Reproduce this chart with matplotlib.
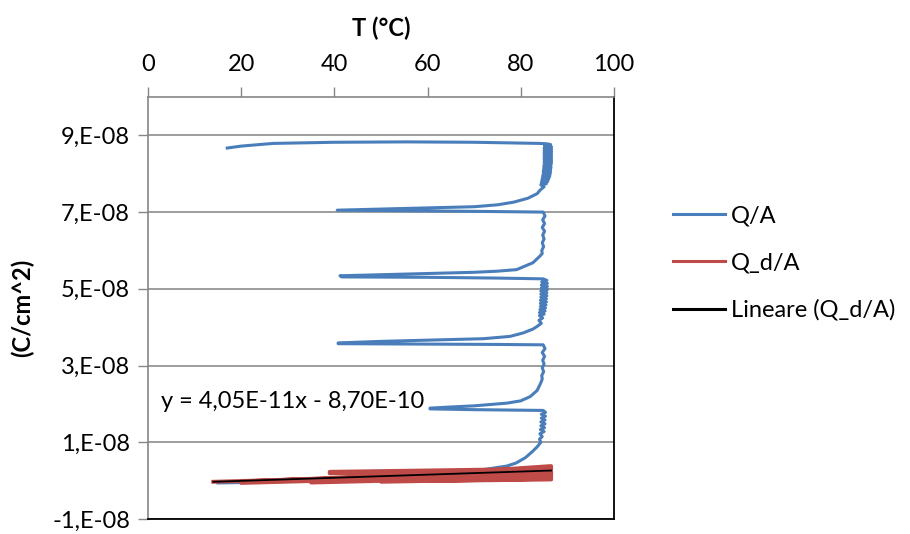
import numpy as np
import matplotlib
matplotlib.use("Agg")
import matplotlib.pyplot as plt
from matplotlib.ticker import FixedLocator

plt.rcParams['font.family'] = ['Lato', 'DejaVu Sans']

# ---------------- data ----------------
# Q/A : temperature (°C) and charge density (in units of 1e-8 C/cm^2)
qa_T = [17.0, 20.0, 26.8, 40.0, 55.6, 70.0, 84.1, 85.6,
        86.4, 85.1, 86.6, 85.0, 86.6, 85.0, 86.6, 85.0, 86.6, 85.0, 86.6, 85.0,
        86.6, 85.0, 86.6, 85.0, 86.6, 85.0, 86.5, 84.9, 86.5, 84.9, 86.4, 84.8,
        86.4, 84.8, 86.3, 84.7, 86.2, 84.6, 86.0, 84.5, 85.8, 84.4, 85.5, 84.3, 85.0,
        84.2, 83.5, 81.5, 78.5, 75.0, 70.0, 60.0, 50.0, 40.6,
        50.0, 70.0, 84.8,
        85.2, 84.7, 85.1, 84.6, 85.1, 84.7, 85.0, 84.6, 84.9, 84.5, 84.6, 84.0,
        82.6, 79.1, 75.0, 69.8, 60.0, 50.0, 41.2,
        41.6, 60.0, 75.0, 84.8,
        85.6, 84.5, 85.7, 84.4, 85.7, 84.4, 85.7, 84.3, 85.6, 84.3, 85.6, 84.3,
        85.5, 84.2, 85.5, 84.2, 85.4, 84.2, 85.3, 84.1, 85.2, 84.0, 85.0, 84.0,
        84.7, 83.9, 84.4, 83.5,
        82.6, 80.5, 77.7, 72.0, 62.7, 50.0, 40.8,
        40.8, 60.0, 75.0, 84.8,
        85.2, 84.6, 85.1, 84.7, 85.0, 84.6, 84.9, 84.5, 84.6, 84.3,
        83.5, 82.0, 80.0, 77.0, 70.0, 65.0, 60.5,
        60.5, 70.0, 84.8,
        85.3, 84.4, 85.3, 84.4, 85.2, 84.3, 85.2, 84.3, 85.1, 84.2, 85.0, 84.1,
        84.6, 84.0, 84.3, 83.5, 82.5, 81.0, 79.0, 77.0,
        70.0, 55.0, 40.0, 25.0, 15.0]
qa_Q = [8.67, 8.72, 8.79, 8.82, 8.83, 8.82, 8.79, 8.78,
        8.76, 8.73, 8.70, 8.67, 8.64, 8.61, 8.58, 8.55, 8.52, 8.49, 8.46, 8.43,
        8.40, 8.37, 8.34, 8.31, 8.28, 8.25, 8.22, 8.19, 8.16, 8.13, 8.10, 8.07,
        8.04, 8.01, 7.98, 7.95, 7.92, 7.89, 7.86, 7.83, 7.80, 7.77, 7.74, 7.71, 7.66,
        7.58, 7.48, 7.36, 7.26, 7.19, 7.14, 7.11, 7.08, 7.05,
        7.04, 7.02, 7.00,
        6.90, 6.80, 6.70, 6.60, 6.50, 6.40, 6.30, 6.20, 6.10, 6.00, 5.92, 5.84,
        5.68, 5.50, 5.46, 5.43, 5.40, 5.37, 5.34,
        5.31, 5.30, 5.28, 5.26,
        5.22, 5.18, 5.14, 5.10, 5.06, 5.02, 4.98, 4.94, 4.90, 4.86, 4.82, 4.78,
        4.74, 4.70, 4.66, 4.62, 4.58, 4.54, 4.50, 4.46, 4.42, 4.38, 4.34, 4.30,
        4.24, 4.18, 4.10, 4.02,
        3.95, 3.85, 3.76, 3.70, 3.67, 3.63, 3.59,
        3.57, 3.56, 3.55, 3.54,
        3.44, 3.34, 3.24, 3.14, 3.04, 2.94, 2.84, 2.74, 2.65, 2.55,
        2.35, 2.19, 2.08, 2.02, 1.95, 1.92, 1.89,
        1.87, 1.85, 1.83,
        1.78, 1.73, 1.68, 1.63, 1.58, 1.53, 1.48, 1.43, 1.38, 1.33, 1.28, 1.22,
        1.15, 1.08, 1.00, 0.88, 0.76, 0.60, 0.46, 0.38,
        0.25, 0.12, 0.02, -0.04, -0.06]

# Q_d/A : temperature (°C) and charge density (in units of 1e-8 C/cm^2)
qd_T = [14.0, 86.5, 86.5, 20.0, 20.0, 86.5, 86.5, 35.0, 35.0, 86.5,
        86.5, 50.0, 50.0, 86.5, 86.5, 39.0, 39.0, 86.5, 86.5, 60.0,
        60.0, 86.0, 86.0, 30.0]
qd_Q = [-0.03, 0.22, 0.16, -0.06, -0.02, 0.28, 0.10, -0.05, 0.00, 0.34,
        0.05, -0.03, 0.08, 0.38, 0.31, 0.23, 0.19, 0.13, 0.03, -0.01,
        0.14, 0.25, 0.19, 0.02]

unit = 1e-8
fit_slope = 4.05e-11
fit_intercept = -8.70e-10
fit_label = "y = 4,05E-11x - 8,70E-10"

x_ticks = [0, 20, 40, 60, 80, 100]
y_ticks = [-1e-8, 1e-8, 3e-8, 5e-8, 7e-8, 9e-8]
y_tick_labels = ["-1,E-08", "1,E-08", "3,E-08", "5,E-08", "7,E-08", "9,E-08"]

# ---------------- figure ----------------
fig = plt.figure(figsize=(9.10, 5.34), dpi=100)
ax = fig.add_axes([148/910, 1 - 519/534, (614 - 148)/910, (519 - 97)/534])

blue = '#4A7EBB'
red = '#BE4B48'
fs = 17

ax.plot(qa_T, np.array(qa_Q) * unit, color=blue, lw=2.2, label='Q/A',
        solid_joinstyle='round', zorder=3)
ax.plot(qd_T, np.array(qd_Q) * unit, color=red, lw=2.8, label='Q_d/A',
        solid_joinstyle='round', zorder=4)
fit_x = np.array([min(qd_T), max(qd_T)])
ax.plot(fit_x, fit_slope * fit_x + fit_intercept, color='black', lw=1.3,
        label='Lineare (Q_d/A)', zorder=5)

ax.text(2.8, 2.05e-8, fit_label, fontsize=fs, va='center', ha='left', zorder=6)

ax.set_xlim(0, 100)
ax.set_ylim(-1e-8, 10e-8)
ax.xaxis.set_major_locator(FixedLocator(x_ticks))
ax.yaxis.set_major_locator(FixedLocator(y_ticks))
ax.set_yticklabels(y_tick_labels)
ax.xaxis.tick_top()
ax.xaxis.set_label_position('top')
ax.tick_params(axis='x', direction='out', length=7, width=1, color='#868686',
               labelsize=fs, pad=8.5)
ax.tick_params(axis='y', direction='out', length=7, width=1, color='#868686',
               labelsize=fs, pad=6)

ax.grid(axis='y', color='#8C8C8C', lw=1.2, zorder=0)
ax.set_axisbelow(True)

for s in ['top', 'left']:
    ax.spines[s].set_color('#868686')
    ax.spines[s].set_linewidth(1.2)
for s in ['right', 'bottom']:
    ax.spines[s].set_color('black')
    ax.spines[s].set_linewidth(1.3)

ax.set_xlabel('T (°C)', fontsize=fs, fontweight='bold', labelpad=13)
ax.set_ylabel('(C/cm^2)', fontsize=fs, fontweight='bold', labelpad=13)

leg = fig.legend(loc='center left', bbox_to_anchor=(673/910, 1 - 263/534), frameon=False,
                 fontsize=fs, handlelength=2.2, handletextpad=0.25, labelspacing=1.1,
                 borderpad=0, borderaxespad=0)
for line in leg.get_lines():
    line.set_linewidth(2.2)

fig.savefig('out.png', dpi=100)
